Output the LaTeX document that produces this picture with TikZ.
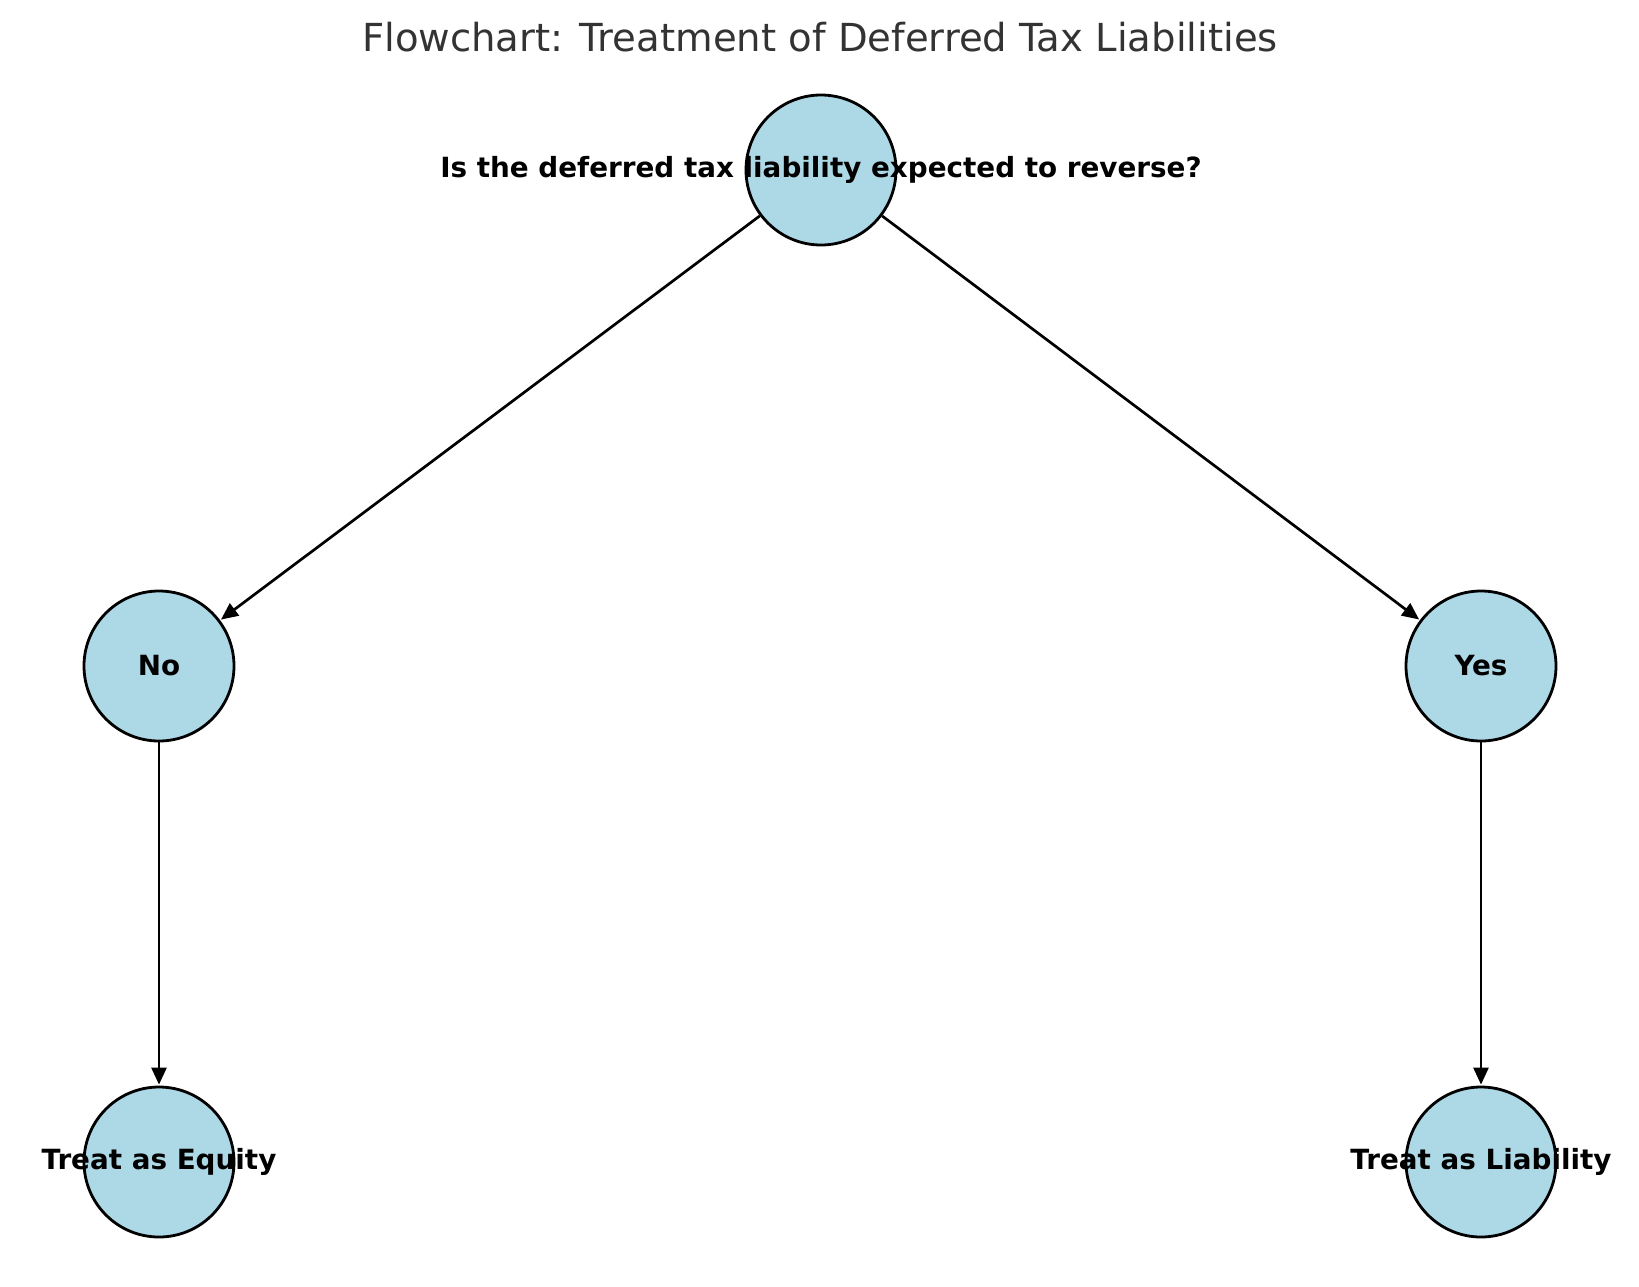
\documentclass[tikz,border=0pt]{standalone}
\usepackage{fontspec}
\setmainfont{DejaVu Sans}
\usetikzlibrary{arrows.meta}
\definecolor{nodefill}{HTML}{ADD8E6}
\definecolor{titlegray}{HTML}{333333}
\tikzset{
  flownode/.style={circle, draw=black, fill=nodefill, line width=2.8pt, minimum size=150pt, inner sep=0pt},
  flowlabel/.style={font=\fontsize{27.8}{32}\selectfont\bfseries, text=black},
  flowedge/.style={draw=black, line width=2.7pt, -{Triangle[length=17pt,width=15pt]}, shorten >=1pt}
}
\begin{document}
\begin{tikzpicture}[x=1pt,y=-1pt]
\useasboundingbox (0,0) rectangle (1639,1286);
\node[font=\fontsize{38.6}{44}\selectfont, text=titlegray] (title) at (820,37) {Flowchart: Treatment of Deferred Tax Liabilities};
\node[flownode] (q) at (821,170) {};
\node[flownode] (no) at (159,666) {};
\node[flownode] (yes) at (1481,666) {};
\node[flownode] (eq) at (159,1162) {};
\node[flownode] (li) at (1481,1162) {};
\node[flowlabel] (ql) at (821,170) {Is the deferred tax liability expected to reverse?};
\node[flowlabel] (nol) at (159,666) {No};
\node[flowlabel] (yesl) at (1481,666) {Yes};
\node[flowlabel] (eql) at (159,1162) {Treat as Equity};
\node[flowlabel] (lil) at (1481,1162) {Treat as Liability};
\draw[flowedge] (q) -- (no);
\draw[flowedge] (q) -- (yes);
\draw[flowedge] (no) -- (eq);
\draw[flowedge] (yes) -- (li);
\end{tikzpicture}
\end{document}
